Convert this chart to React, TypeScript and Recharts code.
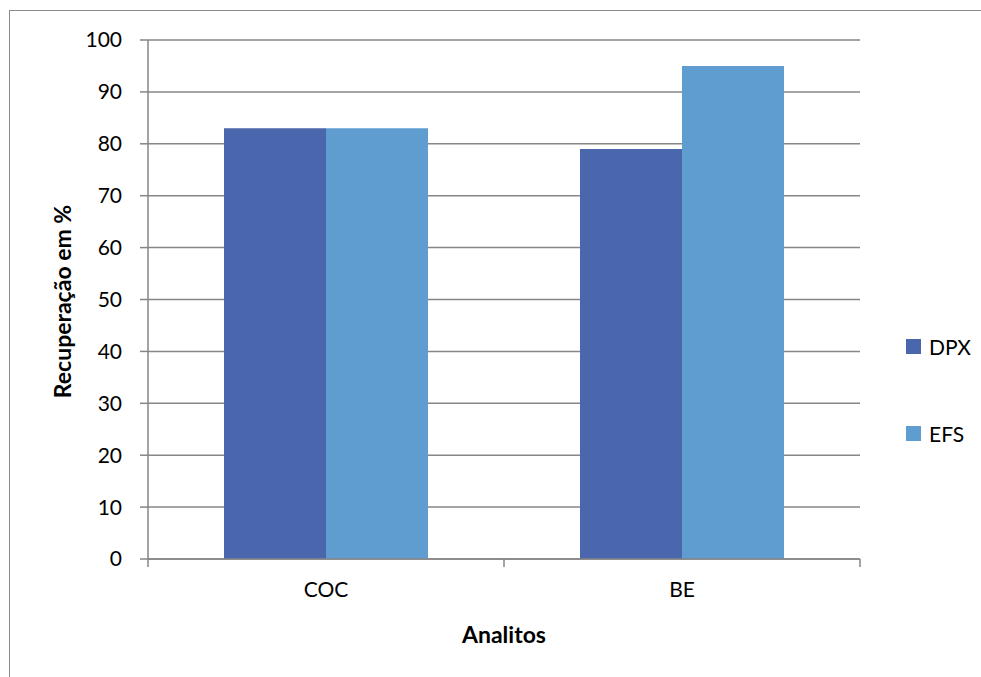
import { BarChart, Bar, XAxis, YAxis, CartesianGrid, Label } from 'recharts';

const categories = ['COC', 'BE'];
const dpxValues = [83, 79];
const efsValues = [83, 95];
const yTicks = [0, 10, 20, 30, 40, 50, 60, 70, 80, 90, 100];

const data = categories.map((name, i) => ({ name, DPX: dpxValues[i], EFS: efsValues[i] }));

const FONT = 'Lato, "Open Sans", sans-serif';
const GRID = '#868686';
const DPX_COLOR = '#4A66AC';
const EFS_COLOR = '#5F9DD1';

const series = [
  { key: 'DPX', color: DPX_COLOR },
  { key: 'EFS', color: EFS_COLOR },
];

const XTick = (props: any) => {
  const { x, y, payload, index, visibleTicksCount } = props;
  const half = payload.offset || 0;
  return (
    <g>
      <line x1={x - half} x2={x - half} y1={y} y2={y + 8} stroke={GRID} strokeWidth={1.5} />
      {index === visibleTicksCount - 1 && (
        <line x1={x + half} x2={x + half} y1={y} y2={y + 8} stroke={GRID} strokeWidth={1.5} />
      )}
      <text x={x} y={y + 38} textAnchor="middle" fill="#000" fontSize={21} fontFamily={FONT}>
        {payload.value}
      </text>
    </g>
  );
};

// legend sits outside the chart so it doesn't eat into the plot area
const LegendBox = () => (
  <div style={{ position: 'absolute', left: 906, top: 331, fontFamily: FONT, fontSize: 21, color: '#000' }}>
    {series.map((s) => (
      <div key={s.key} style={{ display: 'flex', alignItems: 'center', height: 30, marginBottom: 57 }}>
        <span style={{ width: 15, height: 15, background: s.color, display: 'inline-block', marginRight: 8 }} />
        <span>{s.key}</span>
      </div>
    ))}
  </div>
);

const App = () => {
  return (
    <div>
      <div
        style={{
          position: 'absolute',
          left: 9,
          top: 10,
          width: 972,
          height: 667,
          boxSizing: 'border-box',
          borderLeft: '1.5px solid #8c8c8c',
          borderTop: '1.5px solid #8c8c8c',
        }}
      />
      <div style={{ position: 'absolute', left: 0, top: 0 }}>
        <BarChart
          width={981}
          height={677}
          data={data}
          margin={{ top: 40, right: 121, left: 0, bottom: 58 }}
          barCategoryGap="21.35%"
          barGap={0}
        >
          <CartesianGrid vertical={false} stroke={GRID} strokeWidth={1.5} />
          <XAxis
            dataKey="name"
            height={60}
            stroke={GRID}
            strokeWidth={1.5}
            tickLine={false}
            tickSize={0}
            tickMargin={0}
            tick={<XTick />}
            interval={0}
          >
            <Label
              content={({ viewBox }: any) => (
                <text
                  x={viewBox.x + viewBox.width / 2}
                  y={643}
                  textAnchor="middle"
                  fontFamily={FONT}
                  fontSize={23}
                  fontWeight="bold"
                  fill="#000"
                >
                  Analitos
                </text>
              )}
            />
          </XAxis>
          <YAxis
            width={148}
            domain={[0, 100]}
            ticks={yTicks}
            interval={0}
            stroke={GRID}
            strokeWidth={1.5}
            tickSize={8}
            tickMargin={18}
            tick={{ fill: '#000', fontSize: 21, fontFamily: FONT }}
          >
            <Label
              content={({ viewBox }: any) => {
                const cy = viewBox.y + viewBox.height / 2 + 2;
                return (
                  <text
                    x={62}
                    y={cy}
                    transform={`rotate(-90, 62, ${cy})`}
                    textAnchor="middle"
                    dominantBaseline="central"
                    fontFamily={FONT}
                    fontSize={23}
                    fontWeight="bold"
                    fill="#000"
                  >
                    Recuperação em %
                  </text>
                );
              }}
            />
          </YAxis>
          {series.map((s) => (
            <Bar key={s.key} dataKey={s.key} fill={s.color} isAnimationActive={false} />
          ))}
        </BarChart>
      </div>
      <LegendBox />
    </div>
  );
};

export default App;
